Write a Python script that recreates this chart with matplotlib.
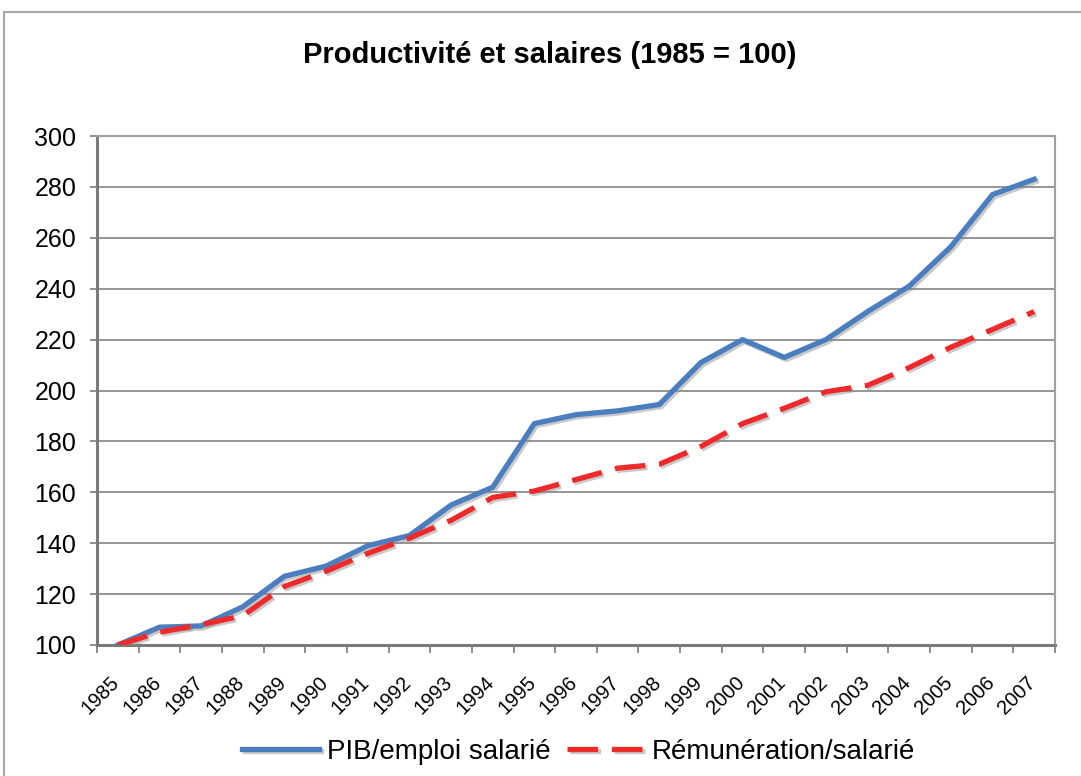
import numpy as np
import matplotlib
matplotlib.use('Agg')
import matplotlib.pyplot as plt
import matplotlib.patheffects as pe
from matplotlib.patches import Rectangle
from matplotlib.transforms import ScaledTranslation

################### data #######################
YEARS = [1985, 1986, 1987, 1988, 1989, 1990, 1991, 1992, 1993, 1994, 1995, 1996,
         1997, 1998, 1999, 2000, 2001, 2002, 2003, 2004, 2005, 2006, 2007]

PIB_EMPLOI = [100, 107, 107.5, 115, 127, 131, 139, 143, 155, 162, 187, 190.5,
              192, 194.5, 211, 220, 213, 220, 231, 241, 256.5, 277, 283]

REMUNERATION = [100, 105, 108, 111.5, 123, 129, 136, 142, 149, 158, 160.5, 165,
                169.5, 171, 178, 187, 193, 199.5, 202, 209, 217, 224, 231]

LABELS = ['PIB/emploi salarié', 'Rémunération/salarié']
TITLE = 'Productivité et salaires (1985 = 100)'

################### style #######################
FONT = ['Liberation Sans', 'DejaVu Sans']
BLUE = '#4a7ebf'
RED = '#f02a2a'
GRID = '#8c8c8c'
AXIS = '#7a7a7a'

W, H = 1081, 776


def main():
    plt.rcParams['font.family'] = FONT
    fig = plt.figure(figsize=(W / 100, H / 100), dpi=100)

    # chart area frame (cut by the image on right and bottom)
    fig.patches.append(Rectangle((4 / W, -0.1), 1.2, 1 - 12 / H + 0.1,
                                 transform=fig.transFigure, fill=False,
                                 edgecolor='#a8a8a8', linewidth=1.5))

    ax = fig.add_axes([97 / W, 1 - 645 / H, 958 / W, 509 / H])

    x = np.arange(len(YEARS))
    shadow = [pe.SimpleLineShadow(offset=(1.5, -1.5), shadow_color='#888888', alpha=0.45),
              pe.Normal()]

    ax.plot(x, PIB_EMPLOI, color=BLUE, linewidth=3.8, label=LABELS[0],
            path_effects=shadow, zorder=3)
    ax.plot(x, REMUNERATION, color=RED, linewidth=3.8, dashes=(5.8, 2.6),
            label=LABELS[1], path_effects=shadow, zorder=4)

    ax.set_xlim(-0.5, len(YEARS) - 0.5)
    ax.set_ylim(100, 300)
    ax.set_yticks(np.arange(100, 301, 20))
    ax.tick_params(axis='y', labelsize=18, length=5, width=1.2, color=AXIS, pad=10)

    # category labels at centers, tick marks between categories
    ax.set_xticks(x)
    ax.set_xticklabels([str(y) for y in YEARS], rotation=45, ha='right',
                       rotation_mode='anchor', fontsize=14.5)
    ax.tick_params(axis='x', which='major', length=0, pad=20)
    shift = ScaledTranslation(-8 / 100, 0, fig.dpi_scale_trans)
    for lbl in ax.get_xticklabels():
        lbl.set_transform(lbl.get_transform() + shift)
    ax.set_xticks(np.arange(-0.5, len(YEARS)), minor=True)
    ax.tick_params(axis='x', which='minor', length=6, width=1.2, color=AXIS)

    ax.yaxis.grid(True, color=GRID, linewidth=1.3)
    ax.set_axisbelow(True)
    for side in ['left', 'bottom']:
        ax.spines[side].set_color(AXIS)
        ax.spines[side].set_linewidth(2.2)
    for side in ['top', 'right']:
        ax.spines[side].set_color('#a0a0a0')
        ax.spines[side].set_linewidth(1.5)

    fig.text(550 / W, 1 - 55 / H, TITLE, ha='center', va='center',
             fontsize=21, fontweight='bold')

    fig.legend(loc='center', bbox_to_anchor=(579 / W, 1 - 752 / H), ncol=2,
               frameon=False, fontsize=20, handlelength=2.75,
               handletextpad=0.3, columnspacing=0.6)

    fig.savefig('out.png', dpi=100)


if __name__ == "__main__":
    main()
